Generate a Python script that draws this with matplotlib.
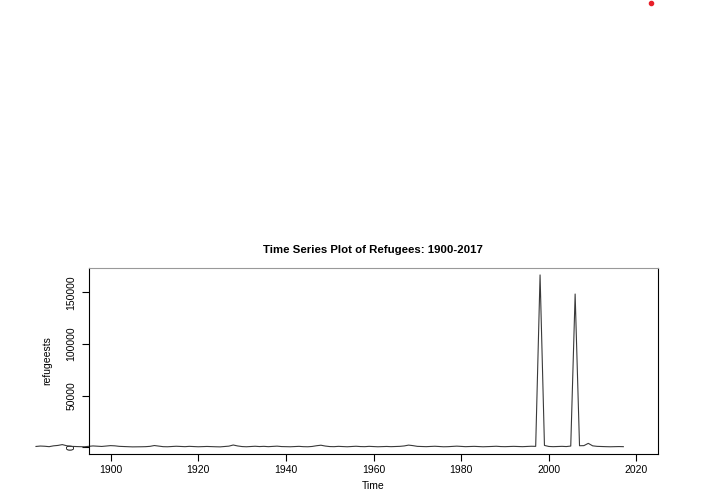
#!/usr/bin/env python3
"""
Time series plot of refugees, drawn R-style (base graphics look).
"""

import numpy as np
import matplotlib.pyplot as plt
from matplotlib.lines import Line2D

plt.rcParams["font.family"] = ["Liberation Sans", "DejaVu Sans"]

# --- data: yearly refugee counts, 1883..2017 ---
start_year = 1883
refugees = [
    800, 1200, 1000, 600, 1400, 1800, 2600, 1500, 900, 700,        # 1883-1892
    600, 500, 900, 1300, 1100, 800, 1200, 1600, 1400, 900,         # 1893-1902
    700, 500, 400, 400, 500, 600, 900, 1700, 1200, 600,            # 1903-1912
    500, 700, 1000, 800, 600, 900, 700, 500, 600, 800,             # 1913-1922
    600, 500, 400, 700, 1100, 2200, 1300, 700, 500, 800,           # 1923-1932
    1000, 700, 900, 600, 800, 1100, 700, 600, 500, 700,            # 1933-1942
    900, 600, 500, 800, 1500, 2000, 1200, 700, 600, 900,           # 1943-1952
    700, 500, 800, 1000, 700, 600, 900, 700, 500, 600,             # 1953-1962
    800, 600, 700, 900, 1300, 2100, 1600, 900, 700, 600,           # 1963-1972
    800, 1000, 700, 500, 600, 900, 1100, 800, 600, 700,            # 1973-1982
    900, 700, 500, 600, 800, 1000, 700, 600, 800, 900,             # 1983-1992
    700, 600, 800, 1000, 900, 167000, 1800, 800, 600, 700,         # 1993-2002
    900, 700, 1200, 148500, 1500, 1600, 3800, 1400, 900, 700,      # 2003-2012
    600, 500, 600, 700, 600,                                       # 2013-2017
]
years = np.arange(start_year, start_year + len(refugees))

x_ticks = [1900, 1920, 1940, 1960, 1980, 2000, 2020]
y_ticks = [0, 50000, 100000, 150000]
title = "Time Series Plot of Refugees: 1900-2017"
x_label = "Time"
y_label = "refugeests"


def main():
    fig = plt.figure(figsize=(7.01, 4.99), dpi=100)
    ax = fig.add_axes([0.127, 0.0902, 0.811, 0.3727])

    # the series spills out of the plot box on the left, as in the original
    ax.plot(years, refugees, color="#3a3a3a", lw=0.8, clip_on=False)

    ax.set_xlim(1895.1, 2024.8)
    ax.set_ylim(-6500, 173700)
    ax.set_xticks(x_ticks)
    ax.set_yticks(y_ticks)
    ax.set_yticklabels([str(v) for v in y_ticks], rotation=90, va="center")

    for sp in ax.spines.values():
        sp.set_linewidth(0.8)
        sp.set_color("black")
    ax.spines["top"].set_color("#999999")
    ax.tick_params(direction="out", length=5, width=0.8, labelsize=7.5,
                   colors="black")
    ax.tick_params(axis="x", pad=3)
    ax.tick_params(axis="y", pad=4)

    ax.set_title(title, fontsize=8.2, fontweight="bold", pad=11)
    ax.set_xlabel(x_label, fontsize=7.5, labelpad=4)
    ax.set_ylabel(y_label, fontsize=7.5, labelpad=10)

    # small red dot in the top right corner of the canvas
    fig.add_artist(Line2D([651 / 701], [1 - 3 / 499], marker="o",
                          markersize=3, color="#e8202a", lw=0,
                          transform=fig.transFigure))

    fig.savefig("out.png", dpi=100)
    plt.close(fig)


if __name__ == "__main__":
    main()
